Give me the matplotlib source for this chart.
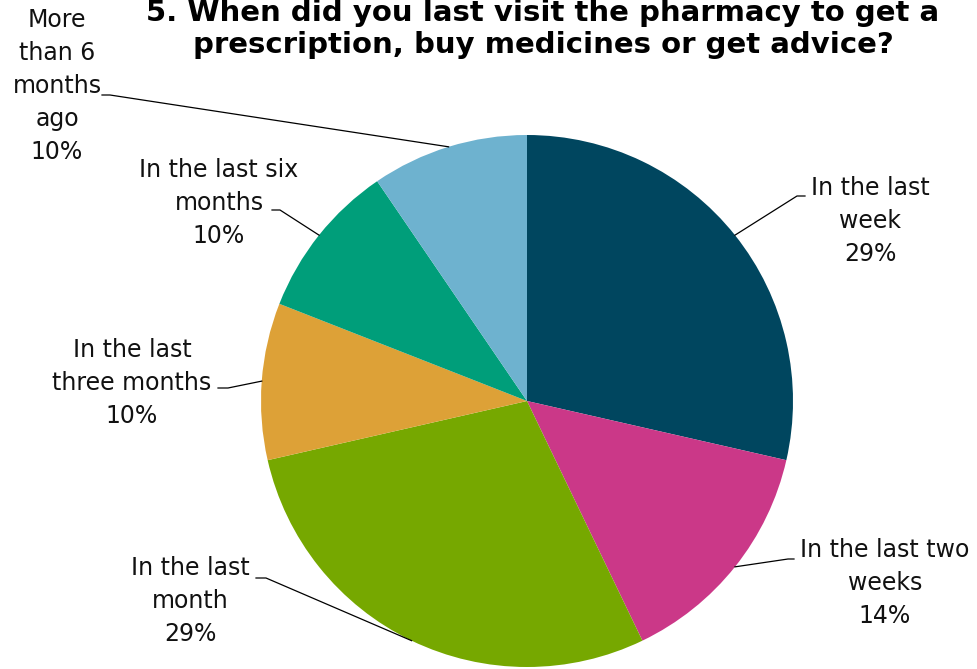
import numpy as np
import matplotlib.pyplot as plt

# responses per answer (share of 21)
categories = ["In the last\nweek", "In the last two\nweeks", "In the last\nmonth",
              "In the last\nthree months", "In the last six\nmonths", "More\nthan 6\nmonths\nago"]
counts = [6, 3, 6, 2, 2, 2]
colors = ["#00465F", "#CB3888", "#76A800", "#DDA137", "#009E7A", "#6EB2CF"]

title = "5. When did you last visit the pharmacy to get a\nprescription, buy medicines or get advice?"

# label block centres (px) and the elbow of each leader line (px)
W, H = 977, 669
cx, cy, R = 527, 401, 266
label_xy = [(870, 221), (885, 583), (190, 601), (132, 383), (219, 203), (57, 86)]
elbow_xy = [(797, 196), (788, 559), (266, 578), (228, 388), (280, 210), (110, 95)]
tail_dx = [8, 6, -10, -10, -8, -8]

fig = plt.figure(figsize=(W / 100, H / 100), dpi=100)
ax = fig.add_axes([0, 0, 1, 1])

wedges, _ = ax.pie(counts, colors=colors, startangle=90, counterclock=False,
                   wedgeprops=dict(linewidth=0))
ax.set_aspect("auto")
ax.set_xlim(-cx / R, (W - cx) / R)
ax.set_ylim(-(H - cy) / R, cy / R)
ax.axis("off")

def to_data(px, py):
    return (px - cx) / R, (cy - py) / R

total = sum(counts)
for w, name, n, (lx, ly), (ex, ey), dx in zip(wedges, categories, counts,
                                               label_xy, elbow_xy, tail_dx):
    mid = np.deg2rad((w.theta1 + w.theta2) / 2)
    x0, y0 = np.cos(mid), np.sin(mid)
    x1, y1 = to_data(ex, ey)
    x2, _ = to_data(ex + dx, ey)
    ax.plot([x0, x1, x2], [y0, y1, y1], color="black", lw=0.9)
    tx, ty = to_data(lx, ly)
    ax.text(tx, ty, f"{name}\n{round(100 * n / total)}%", ha="center", va="center",
            fontsize=17, linespacing=1.47, family="DejaVu Sans", color="#111111")

fig.text(543 / W, 1 - 29 / H, title, ha="center", va="center", fontsize=21,
         fontweight="bold", family="DejaVu Sans", linespacing=1.2)

fig.savefig("out.png", dpi=100)
